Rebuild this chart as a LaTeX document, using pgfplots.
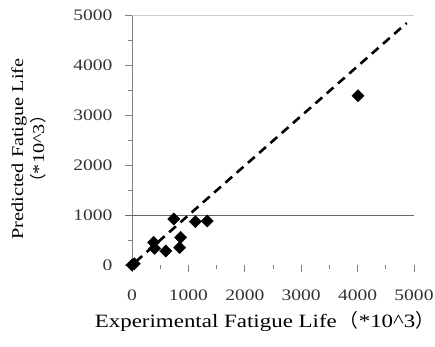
\documentclass[border=0pt]{standalone}
\usepackage{pgfplots}
\pgfplotsset{compat=1.18}
\usepackage{fontspec}
\setmainfont{Liberation Serif}[FakeStretch=1.22]
\newfontfamily\cjk{Noto Sans CJK SC}[FakeStretch=1.0]
\begin{document}
\begin{tikzpicture}
\path[use as bounding box] (0,0) rectangle (435bp,347bp);
\begin{axis}[
  at={(132bp,82bp)}, anchor=south west,
  scale only axis, width=282bp, height=250bp,
  xmin=0, xmax=5000, ymin=0, ymax=5000,
  axis lines=left,
  axis line style={-, black!50, line width=0.8bp},
  x axis line style={draw=none},
  xtick={0,1000,...,5000}, ytick={0,1000,...,5000},
  minor x tick num=1, minor y tick num=1,
  tick align=outside,
  major tick length=7bp, minor tick length=4bp,
  tick style={black!50, line width=0.8bp},
  /pgf/number format/assume math mode=true,
  scaled ticks=false,
  /pgf/number format/1000 sep={},
  tick label style={font=\fontsize{16bp}{18bp}\selectfont, black!80},
  yticklabel style={xshift=-9bp},
  xticklabel style={yshift=-14bp},
  xlabel={Experimental Fatigue Life\,{\cjk （}*10\textasciicircum 3{\cjk ）}},
  xlabel style={font=\fontsize{18.8bp}{22bp}\selectfont, at={(axis description cs:0.47,0)}, anchor=base, yshift=-62bp},
  ylabel={Predicted Fatigue Life\\{\cjk （}*10\textasciicircum 3{\cjk ）}},
  ylabel style={font=\fontsize{16.6bp}{21bp}\selectfont, align=center, at={(axis description cs:-0.367,0.464)}, anchor=center},
  clip=false,
]
\draw[black!20!white, line width=0.8bp] (rel axis cs:0,1) -- (rel axis cs:1,1);
\draw[black!60, line width=0.8bp] ([xshift=-6bp]axis cs:0,1000) -- (axis cs:5000,1000);
\addplot[black, line width=2.6bp, dash pattern=on 9bp off 6bp, no marks] coordinates {(60,60) (4870,4840)};
\addplot[only marks, mark=square*, mark size=4.3bp, mark options={rotate=45, black, fill=black}] coordinates {
(0,0) (40,25)
(739,920)
(384,453)
(402,333)
(597,280)
(863,553)
(845,347)
(1123,867)
(1336,880)
(4007,3387)
};
\end{axis}
\end{tikzpicture}
\end{document}
